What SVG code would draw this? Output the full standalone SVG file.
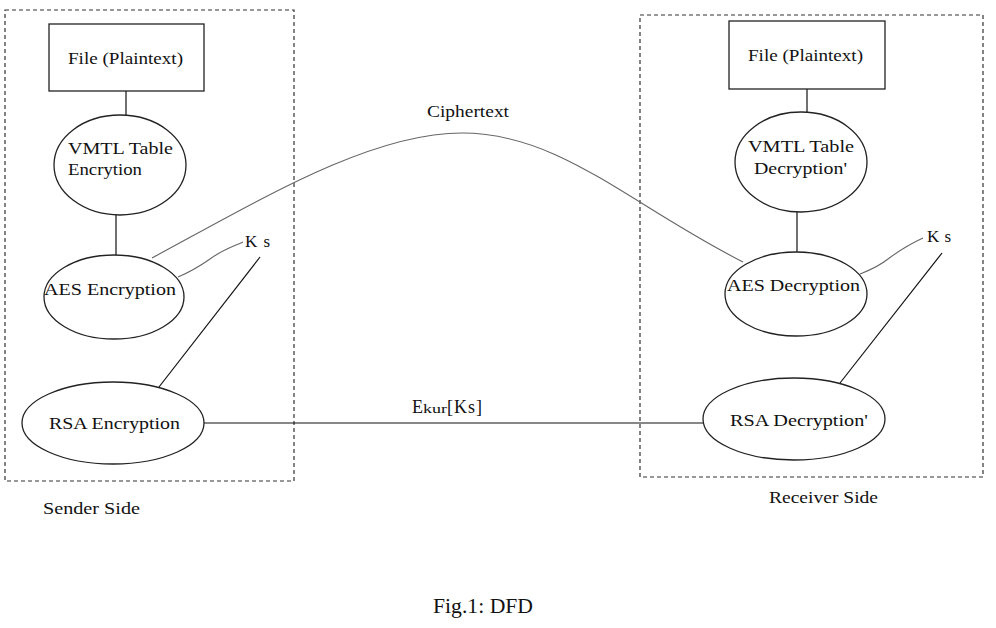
<svg xmlns="http://www.w3.org/2000/svg" width="996" height="628" viewBox="0 0 996 628">
<style>
text{font-family:"Liberation Serif","Times New Roman",serif;font-size:17px;fill:#111}
.box{fill:none;stroke:#222;stroke-width:1.3}
.dash{fill:none;stroke:#333;stroke-width:1.2;stroke-dasharray:4,3}
.ln{fill:none;stroke:#111;stroke-width:1.2}
.gr{fill:none;stroke:#666;stroke-width:1.1}
</style>
<rect width="996" height="628" fill="#fff"/>
<g id="sender-boundary">
<rect class="dash" x="5" y="10" width="289" height="471"/>
<text x="43" y="514" textLength="97" lengthAdjust="spacingAndGlyphs">Sender Side</text>
</g>
<g id="receiver-boundary">
<rect class="dash" x="640" y="15" width="343" height="462"/>
<text x="769" y="503" textLength="109" lengthAdjust="spacingAndGlyphs">Receiver Side</text>
</g>
<g id="connectors">
<line class="ln" x1="126" y1="91" x2="126" y2="115"/>
<line class="ln" x1="116" y1="215" x2="116" y2="255"/>
<path class="gr" d="M178,277 C190,272 200,266 210,259 C222,250 232,247 243,242"/>
<line class="ln" x1="260" y1="257" x2="159" y2="387"/>
<line class="ln" x1="204" y1="423" x2="703" y2="423"/>
<path class="gr" d="M152,258 C260,200 370,133 462,133 C560,133 630,205 743,262"/>
<line class="ln" x1="807" y1="89" x2="807" y2="113"/>
<line class="ln" x1="797" y1="212" x2="797" y2="252"/>
<path class="gr" d="M860,274 C870,270 878,267 888,259 C900,250 912,243 923,238"/>
<line class="ln" x1="942" y1="253" x2="840" y2="383"/>
<text x="427" y="117" textLength="82" lengthAdjust="spacingAndGlyphs">Ciphertext</text>
<text x="412" y="413" style="font-size:18px">E<tspan style="font-size:12px" textLength="24" lengthAdjust="spacingAndGlyphs">kur</tspan><tspan x="447" textLength="35" lengthAdjust="spacing">[Ks]</tspan></text>
<text x="245" y="247" textLength="25" lengthAdjust="spacing">Ks</text>
<text x="927" y="242" textLength="24" lengthAdjust="spacing">Ks</text>
</g>
<g id="file-sender">
<rect class="box" x="49" y="24" width="155" height="67"/>
<text x="68" y="64" textLength="115" lengthAdjust="spacingAndGlyphs">File (Plaintext)</text>
</g>
<g id="vmtl-encryption">
<ellipse class="box" cx="120" cy="165" rx="66" ry="50"/>
<text x="68" y="154" textLength="105" lengthAdjust="spacingAndGlyphs">VMTL Table</text>
<text x="68" y="175" textLength="74" lengthAdjust="spacingAndGlyphs">Encrytion</text>
</g>
<g id="aes-encryption">
<ellipse class="box" cx="114" cy="297" rx="70" ry="42"/>
<text x="44" y="295" textLength="132" lengthAdjust="spacingAndGlyphs">AES Encryption</text>
</g>
<g id="rsa-encryption">
<ellipse class="box" cx="113" cy="423" rx="91" ry="41"/>
<text x="49" y="429" textLength="131" lengthAdjust="spacingAndGlyphs">RSA Encryption</text>
</g>
<g id="file-receiver">
<rect class="box" x="729" y="21" width="156" height="68"/>
<text x="748" y="61" textLength="115" lengthAdjust="spacingAndGlyphs">File (Plaintext)</text>
</g>
<g id="vmtl-decryption">
<ellipse class="box" cx="801" cy="162" rx="66" ry="50"/>
<text x="748" y="152" textLength="106" lengthAdjust="spacingAndGlyphs">VMTL Table</text>
<text x="754" y="174" textLength="93" lengthAdjust="spacingAndGlyphs">Decryption'</text>
</g>
<g id="aes-decryption">
<ellipse class="box" cx="796" cy="294" rx="71" ry="42"/>
<text x="727" y="291" textLength="133" lengthAdjust="spacingAndGlyphs">AES Decryption</text>
</g>
<g id="rsa-decryption">
<ellipse class="box" cx="794" cy="419" rx="91" ry="41"/>
<text x="730" y="426" textLength="138" lengthAdjust="spacingAndGlyphs">RSA Decryption'</text>
</g>
<text x="433" y="613" style="font-size:21px" textLength="100" lengthAdjust="spacingAndGlyphs">Fig.1: DFD</text>
</svg>
